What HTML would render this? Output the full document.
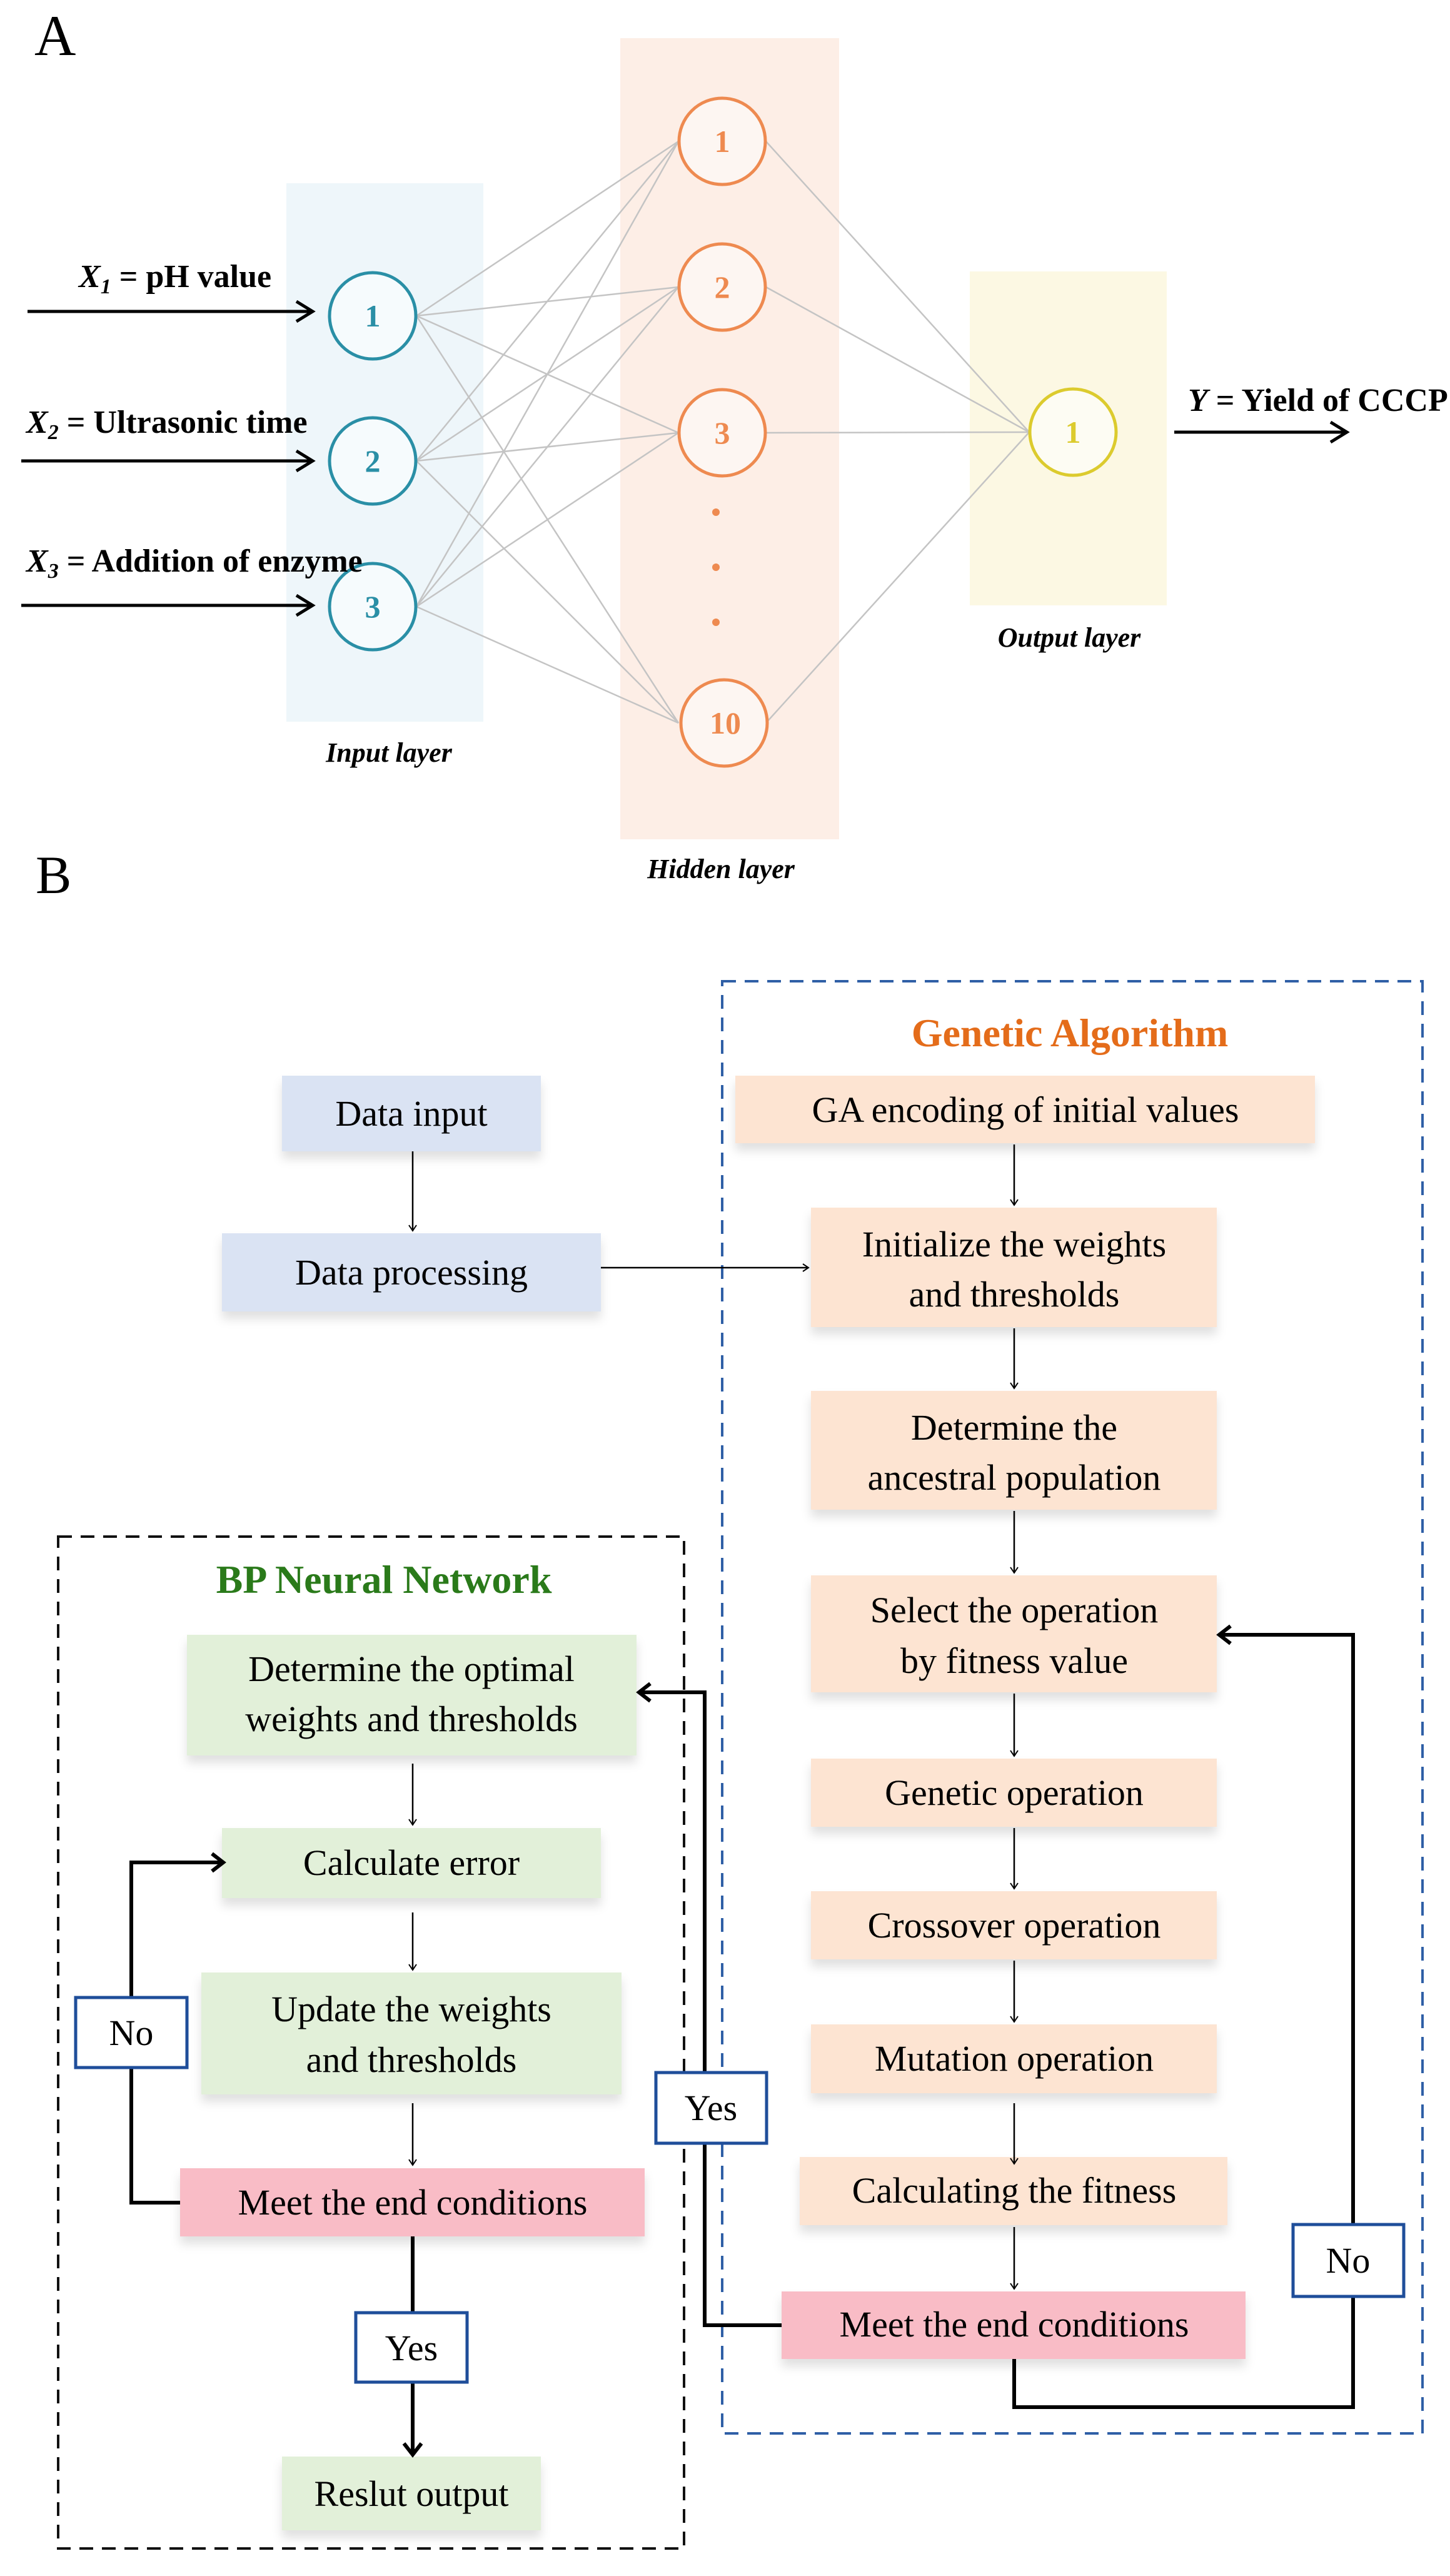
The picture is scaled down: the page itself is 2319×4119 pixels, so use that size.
<!DOCTYPE html>
<html><head><meta charset="utf-8"><style>
html,body{margin:0;padding:0;background:#fff}
svg{display:block}
text{font-family:"Liberation Serif",serif}
</style></head><body>
<svg width="2319" height="4119" viewBox="0 0 2319 4119" xmlns="http://www.w3.org/2000/svg">
<defs>
<marker id="ah" markerWidth="14" markerHeight="14" refX="11" refY="7" orient="auto" markerUnits="userSpaceOnUse"><path d="M2,1 L11,7 L2,13" fill="none" stroke="#000" stroke-width="2"/></marker>
<marker id="ahb" markerWidth="30" markerHeight="40" refX="24" refY="20" orient="auto" markerUnits="userSpaceOnUse"><path d="M6,6 L24,20 L6,34" fill="none" stroke="#000" stroke-width="6"/></marker>
<filter id="sh" x="-5%" y="-10%" width="110%" height="140%"><feDropShadow dx="0" dy="12" stdDeviation="8" flood-color="#000" flood-opacity="0.12"/></filter>
</defs>
<text x="55" y="88" font-size="92">A</text>
<!-- bands -->
<rect x="458" y="293" width="315" height="861" fill="#eef6fa"/>
<rect x="992" y="61" width="350" height="1281" fill="#fdeee6"/>
<rect x="1551" y="434" width="315" height="534" fill="#fcf8e3"/>
<!-- connections -->
<g stroke="#c4c4c4" stroke-width="2.5" fill="none">
<line x1="666" y1="505" x2="1085" y2="226"/><line x1="666" y1="505" x2="1085" y2="459"/><line x1="666" y1="505" x2="1085" y2="692"/><line x1="666" y1="505" x2="1085" y2="1156"/>
<line x1="666" y1="737" x2="1085" y2="226"/><line x1="666" y1="737" x2="1085" y2="459"/><line x1="666" y1="737" x2="1085" y2="692"/><line x1="666" y1="737" x2="1085" y2="1156"/>
<line x1="666" y1="970" x2="1085" y2="226"/><line x1="666" y1="970" x2="1085" y2="459"/><line x1="666" y1="970" x2="1085" y2="692"/><line x1="666" y1="970" x2="1085" y2="1156"/>
<line x1="1225" y1="226" x2="1646" y2="691"/><line x1="1225" y1="459" x2="1646" y2="691"/><line x1="1225" y1="692" x2="1646" y2="691"/><line x1="1225" y1="1156" x2="1646" y2="691"/>
</g>
<!-- input circles -->
<g fill="#f6fbfd" stroke="#2a8fa6" stroke-width="5">
<circle cx="596" cy="505" r="69"/><circle cx="596" cy="737" r="69"/><circle cx="596" cy="970" r="69"/></g>
<g fill="#2a8fa6" font-size="50" font-weight="bold" text-anchor="middle">
<text x="596" y="522">1</text><text x="596" y="754">2</text><text x="596" y="987">3</text></g>
<g fill="#fdf6f2" stroke="#ee8a50" stroke-width="5">
<circle cx="1155" cy="226" r="69"/><circle cx="1155" cy="459" r="69"/><circle cx="1155" cy="692" r="69"/><circle cx="1158" cy="1156" r="69"/></g>
<g fill="#ee8a50" font-size="50" font-weight="bold" text-anchor="middle">
<text x="1155" y="243">1</text><text x="1155" y="476">2</text><text x="1155" y="709">3</text><text x="1160" y="1173">10</text></g>
<g fill="#ee8a50"><circle cx="1145" cy="819" r="6"/><circle cx="1145" cy="907" r="6"/><circle cx="1145" cy="995" r="6"/></g>
<circle cx="1716" cy="691" r="69" fill="#fdfcf3" stroke="#dccb2e" stroke-width="5"/>
<text x="1716" y="708" fill="#dccb2e" font-size="50" font-weight="bold" text-anchor="middle">1</text>
<!-- input arrows -->
<g stroke="#000" stroke-width="5" fill="none">
<line x1="44" y1="498" x2="500" y2="498"/><path d="M474,482 L500,498 L474,514"/>
<line x1="34" y1="737" x2="500" y2="737"/><path d="M474,721 L500,737 L474,753"/>
<line x1="34" y1="968" x2="500" y2="968"/><path d="M474,952 L500,968 L474,984"/>
<line x1="1878" y1="691" x2="2154" y2="691"/><path d="M2128,675 L2154,691 L2128,707"/>
</g>
<g font-size="52" font-weight="bold" fill="#000">
<text x="126" y="459"><tspan font-style="italic">X</tspan><tspan font-style="italic" font-size="34" dy="10">1</tspan><tspan dy="-10"> = pH value</tspan></text>
<text x="42" y="692"><tspan font-style="italic">X</tspan><tspan font-style="italic" font-size="34" dy="10">2</tspan><tspan dy="-10"> = Ultrasonic time</tspan></text>
<text x="42" y="914"><tspan font-style="italic">X</tspan><tspan font-style="italic" font-size="34" dy="10">3</tspan><tspan dy="-10"> = Addition of enzyme</tspan></text>
<text x="1900" y="657"><tspan font-style="italic">Y</tspan> = Yield of CCCP</text>
</g>
<g font-size="44" font-weight="bold" font-style="italic" text-anchor="middle">
<text x="622" y="1218">Input layer</text>
<text x="1153" y="1404">Hidden layer</text>
<text x="1710" y="1034">Output layer</text>
</g>
<text x="57" y="1428" font-size="86">B</text>
<!-- dashed boxes -->
<rect x="1155" y="1569" width="1120" height="2322" fill="none" stroke="#2f5fa6" stroke-width="4" stroke-dasharray="22,14"/>
<rect x="93" y="2457" width="1001" height="1618" fill="none" stroke="#111" stroke-width="4" stroke-dasharray="22,14"/>
<text x="1711" y="1673" font-size="64" font-weight="bold" fill="#e46c1a" text-anchor="middle">Genetic Algorithm</text>
<text x="614" y="2547" font-size="64" font-weight="bold" fill="#2a7a1a" text-anchor="middle">BP Neural Network</text>
<!-- boxes -->
<g filter="url(#sh)">
<rect x="451" y="1720" width="414" height="121" fill="#dae3f3"/>
<rect x="355" y="1972" width="606" height="125" fill="#dae3f3"/>
<rect x="1176" y="1720" width="927" height="108" fill="#fde4d2"/>
<rect x="1297" y="1931" width="649" height="191" fill="#fde4d2"/>
<rect x="1297" y="2224" width="649" height="190" fill="#fde4d2"/>
<rect x="1297" y="2519" width="649" height="187" fill="#fde4d2"/>
<rect x="1297" y="2812" width="649" height="109" fill="#fde4d2"/>
<rect x="1297" y="3024" width="649" height="109" fill="#fde4d2"/>
<rect x="1297" y="3237" width="649" height="110" fill="#fde4d2"/>
<rect x="1279" y="3449" width="684" height="109" fill="#fde4d2"/>
<rect x="1250" y="3664" width="742" height="108" fill="#f9bcc6"/>
<rect x="299" y="2614" width="719" height="193" fill="#e2f0d9"/>
<rect x="355" y="2923" width="606" height="112" fill="#e2f0d9"/>
<rect x="322" y="3154" width="672" height="195" fill="#e2f0d9"/>
<rect x="288" y="3467" width="743" height="109" fill="#f9bcc6"/>
<rect x="451" y="3928" width="414" height="118" fill="#e2f0d9"/>
</g>
<g font-size="58" text-anchor="middle" fill="#000">
<text x="658" y="1800">Data input</text>
<text x="658" y="2054">Data processing</text>
<text x="1640" y="1794">GA encoding of initial values</text>
<text x="1622" y="2009">Initialize the weights</text>
<text x="1622" y="2089">and thresholds</text>
<text x="1622" y="2302">Determine the</text>
<text x="1622" y="2382">ancestral population</text>
<text x="1622" y="2594">Select the operation</text>
<text x="1622" y="2675">by fitness value</text>
<text x="1622" y="2886">Genetic operation</text>
<text x="1622" y="3098">Crossover operation</text>
<text x="1622" y="3311">Mutation operation</text>
<text x="1622" y="3522">Calculating the fitness</text>
<text x="1622" y="3736">Meet the end conditions</text>
<text x="658" y="2688">Determine the  optimal</text>
<text x="658" y="2768">weights and thresholds</text>
<text x="658" y="2998">Calculate error</text>
<text x="658" y="3232">Update the weights</text>
<text x="658" y="3313">and thresholds</text>
<text x="660" y="3541">Meet the end conditions</text>
<text x="658" y="4007">Reslut output</text>
</g>
<!-- thin arrows -->
<g stroke="#000" stroke-width="2.5" fill="none" marker-end="url(#ah)">
<line x1="660" y1="1841" x2="660" y2="1968"/>
<line x1="961" y1="2027" x2="1293" y2="2027"/>
<line x1="1622" y1="1830" x2="1622" y2="1927"/>
<line x1="1622" y1="2124" x2="1622" y2="2220"/>
<line x1="1622" y1="2416" x2="1622" y2="2515"/>
<line x1="1622" y1="2708" x2="1622" y2="2808"/>
<line x1="1622" y1="2923" x2="1622" y2="3020"/>
<line x1="1622" y1="3135" x2="1622" y2="3233"/>
<line x1="1622" y1="3363" x2="1622" y2="3460"/>
<line x1="1622" y1="3561" x2="1622" y2="3660"/>
<line x1="660" y1="2820" x2="660" y2="2918"/>
<line x1="660" y1="3058" x2="660" y2="3150"/>
<line x1="660" y1="3363" x2="660" y2="3462"/>
</g>
<!-- thick loops -->
<g stroke="#000" stroke-width="6" fill="none" marker-end="url(#ahb)">
<polyline points="1622,3772 1622,3849 2164,3849 2164,2614 1950,2614"/>
<polyline points="1250,3718 1127,3718 1127,2706 1022,2706"/>
<polyline points="288,3522 210,3522 210,2978 357,2978"/>
<polyline points="660,3576 660,3925"/>
</g>
<!-- label boxes -->
<g fill="#fff" stroke="#1f4e9a" stroke-width="5">
<rect x="2068" y="3557" width="177" height="115"/>
<rect x="1049" y="3314" width="177" height="113"/>
<rect x="121" y="3194" width="178" height="112"/>
<rect x="569" y="3698" width="178" height="111"/>
</g>
<g font-size="58" text-anchor="middle">
<text x="2156" y="3634">No</text>
<text x="1137" y="3390">Yes</text>
<text x="210" y="3270">No</text>
<text x="658" y="3774">Yes</text>
</g>
</svg>
</body></html>
